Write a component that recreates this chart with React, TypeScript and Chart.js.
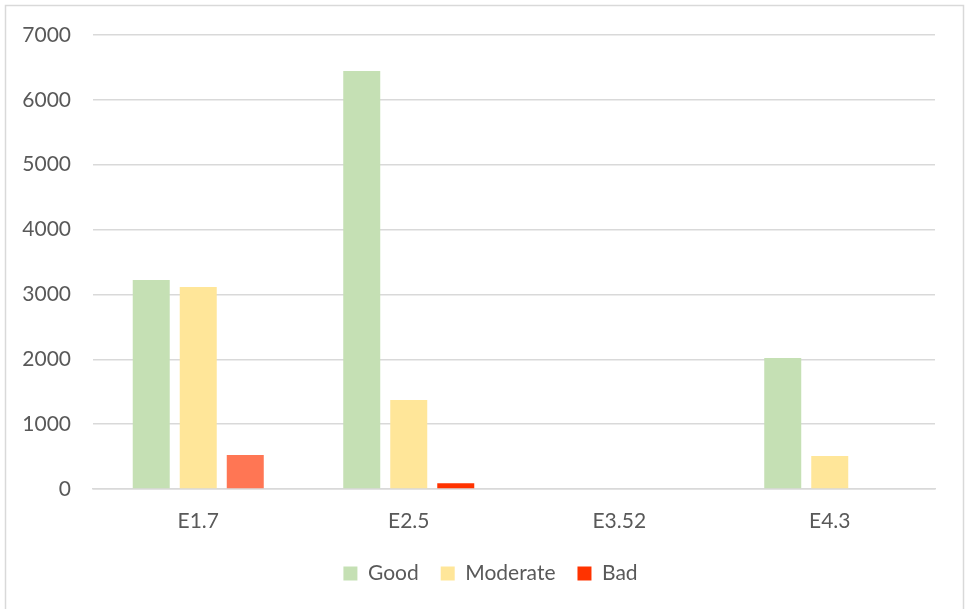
import React, { useEffect, useRef } from "react";
import { Chart, registerables } from "chart.js";

Chart.register(...registerables);

const categories = ["E1.7", "E2.5", "E3.52", "E4.3"];
const goodValues = [3222, 6445, 0, 2020];
const moderateValues = [3114, 1372, 0, 509];
const badValues = [524, 90, 0, 0];
const yTicks = [0, 1000, 2000, 3000, 4000, 5000, 6000, 7000];

const GOOD = "#C5E0B4";
const MODERATE = "#FFE699";
const BAD = "#FF3300";
const BAD_COLORS = ["#FF7654", "#FF3300", "#FF3300", "#FF3300"];
const TEXT = "#595959";
const GRID = "#D9D9D9";
const FONT = "Lato, 'Open Sans', sans-serif";

const borderPlugin = {
  id: "outerBorder",
  afterDraw(chart: any) {
    const ctx = chart.ctx;
    ctx.save();
    ctx.strokeStyle = "#D9D9D9";
    ctx.lineWidth = 1.5;
    ctx.strokeRect(5.5, 5.5, 958, 640);
    ctx.restore();
  },
};

export default function App() {
  const ref = useRef<HTMLCanvasElement>(null);
  useEffect(() => {
    const chart = new Chart(ref.current!, {
      type: "bar",
      data: {
        labels: categories,
        datasets: [
          { label: "Good", data: goodValues, backgroundColor: GOOD },
          { label: "Moderate", data: moderateValues, backgroundColor: MODERATE },
          { label: "Bad", data: badValues, backgroundColor: BAD_COLORS },
        ],
      },
      options: {
        animation: false,
        responsive: false,
        maintainAspectRatio: false,
        datasets: { bar: { categoryPercentage: 0.67, barPercentage: 0.787 } },
        layout: { padding: { top: 35, right: 0, left: 16, bottom: 15 } },
        plugins: {
          tooltip: { enabled: false },
          legend: {
            position: "bottom",
            labels: {
              color: TEXT,
              font: { family: FONT, size: 21 },
              boxWidth: 14,
              boxHeight: 14,
              padding: 22,
              generateLabels(chart: any) {
                const items = Chart.defaults.plugins.legend.labels.generateLabels(chart);
                items.forEach((it: any) => {
                  if (it.text === "Bad") it.fillStyle = BAD;
                  it.strokeStyle = "transparent";
                  it.lineWidth = 0;
                });
                return items;
              },
            },
          },
        },
        scales: {
          x: {
            grid: { display: false, drawTicks: false },
            border: { display: true, color: GRID, width: 1.5 },
            ticks: { color: TEXT, font: { family: FONT, size: 21 }, padding: 20 },
            afterFit(scale: any) {
              scale.height = 52;
            },
          },
          y: {
            min: 0,
            max: 7000,
            afterBuildTicks(scale: any) {
              scale.ticks = yTicks.map((v) => ({ value: v }));
            },
            grid: { color: GRID, lineWidth: 1.5, drawTicks: false },
            border: { display: false },
            ticks: {
              color: TEXT,
              font: { family: FONT, size: 21 },
              padding: 22,
              callback: (v: any) => String(v),
            },
            afterFit(scale: any) {
              scale.width = 77;
            },
          },
          yRight: {
            position: "right",
            min: 0,
            max: 7000,
            grid: { display: false, drawTicks: false },
            border: { display: false },
            ticks: { display: false },
            afterFit(scale: any) {
              scale.width = 30;
            },
          },
        },
      },
      plugins: [borderPlugin],
    });
    return () => chart.destroy();
  }, []);
  return (
    <div style={{ position: "fixed", left: 0, top: 0, width: 965, height: 609, background: "#fff" }}>
      <canvas ref={ref} width={965} height={609} style={{ width: 965, height: 609 }} />
    </div>
  );
}
